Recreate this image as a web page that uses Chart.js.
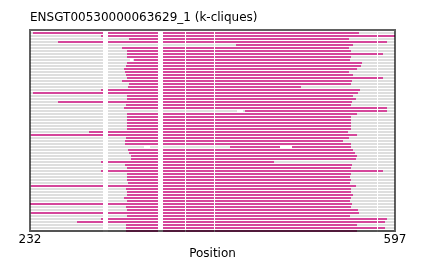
<!DOCTYPE html>
<html>
<head>
<meta charset="utf-8">
<script src="https://cdn.jsdelivr.net/npm/chart.js@4.4.1/dist/chart.umd.min.js"></script>
<style>
html, body { margin: 0; padding: 0; background: #fff; }
</style>
</head>
<body>
<canvas id="myChart" width="425" height="261"></canvas>
<script>
var titleText = "ENSGT00530000063629_1 (k-cliques)";
var xMin = 232;
var xMax = 597;
var tickValues = [232, 597];

// one entry per sequence row, top to bottom
var cliqueStart = [235,303,331,260,438,324,329,329,329,336,
                   329,328,326,327,328,329,324,331,330,303,
                   235,329,329,260,328,326,447,329,329,329,
                   329,329,329,291,233,328,327,327,432,330,
                   331,333,333,303,327,329,303,329,329,329,
                   330,233,328,329,329,326,329,232,328,329,
                   233,329,303,279,328,328,328];
var cliqueEnd = [561,597,551,589,555,551,553,585,553,552,
                 564,563,559,551,555,585,554,553,503,562,
                 560,555,558,554,553,589,589,559,553,553,
                 553,553,553,550,559,551,545,553,553,555,
                 557,559,558,476,554,553,585,553,552,553,
                 552,558,553,553,555,553,552,554,553,560,
                 561,552,589,587,559,587,559];

// alignment columns that are gaps in every row
var gapColumns = [[305,310],[360,365],[387,388],[416,417],[579,580]];
// [row, from, to] gaps only in some rows
var extraGaps = [[9,332,335],[26,439,445],[38,346,352],[38,482,494]];

var nRows = cliqueStart.length;

function cutGaps(a, b, gaps) {
  var segs = [[a, b]];
  gaps.forEach(function(g) {
    var next = [];
    segs.forEach(function(s) {
      if (g[1] <= s[0] || g[0] >= s[1]) { next.push(s); return; }
      if (g[0] > s[0]) next.push([s[0], g[0]]);
      if (g[1] < s[1]) next.push([g[1], s[1]]);
    });
    segs = next;
  });
  return segs;
}

var grayData = [];
var cliqueData = [];
for (var k = 0; k < nRows; k++) {
  var rowGaps = gapColumns.concat(extraGaps.filter(function(g){ return g[0] === k; })
                                           .map(function(g){ return [g[1], g[2]]; }));
  var yv = nRows - 1 - k;
  cutGaps(xMin, xMax, rowGaps).forEach(function(s){ grayData.push({x: s, y: yv}); });
  cutGaps(cliqueStart[k], cliqueEnd[k], rowGaps).forEach(function(s){ cliqueData.push({x: s, y: yv}); });
}

var framePlugin = {
  id: 'frame',
  afterDatasetsDraw: function(chart) {
    var a = chart.chartArea, ctx = chart.ctx;
    ctx.save();
    ctx.strokeStyle = 'rgba(0,0,0,0.62)';
    ctx.lineWidth = 2;
    ctx.strokeRect(a.left, a.top, a.right - a.left, a.bottom - a.top);
    ctx.restore();
  }
};

new Chart("myChart", {
  type: "bar",
  data: {
    datasets: [{
      data: grayData,
      backgroundColor: "#dedede",
      barThickness: 2,
      grouped: false,
      order: 2,
      inflateAmount: 0,
      borderWidth: 0,
      clip: false
    }, {
      data: cliqueData,
      backgroundColor: "#d5469b",
      barThickness: 2,
      grouped: false,
      order: 1,
      inflateAmount: 0,
      borderWidth: 0,
      clip: false
    }]
  },
  options: {
    indexAxis: 'y',
    responsive: false,
    animation: false,
    devicePixelRatio: 1,
    layout: { padding: { left: 30, right: 30, top: 0, bottom: 0 } },
    plugins: {
      legend: { display: false },
      tooltip: { enabled: false },
      title: {
        display: true,
        text: titleText,
        align: 'start',
        color: '#000',
        font: { family: 'DejaVu Sans', size: 12, weight: 'normal', lineHeight: 1.2 },
        padding: { top: 10.8, bottom: 4.8 }
      }
    },
    scales: {
      y: {
        type: 'linear',
        min: 0,
        max: nRows,
        offset: false,
        display: false
      },
      x: {
        type: 'linear',
        min: xMin,
        max: xMax,
        afterBuildTicks: function(scale) {
          scale.ticks = tickValues.map(function(v){ return {value: v}; });
        },
        afterFit: function(scale) { scale.height = 30; },
        grid: { display: false, drawTicks: false },
        border: { display: false },
        ticks: {
          autoSkip: false,
          maxRotation: 0,
          padding: 3,
          color: '#000',
          font: { family: 'DejaVu Sans', size: 12, lineHeight: 1 }
        },
        title: {
          display: true,
          text: 'Position',
          color: '#000',
          padding: 0,
          font: { family: 'DejaVu Sans', size: 12, lineHeight: 1.2 }
        }
      }
    }
  },
  plugins: [framePlugin]
});
</script>
</body>
</html>
